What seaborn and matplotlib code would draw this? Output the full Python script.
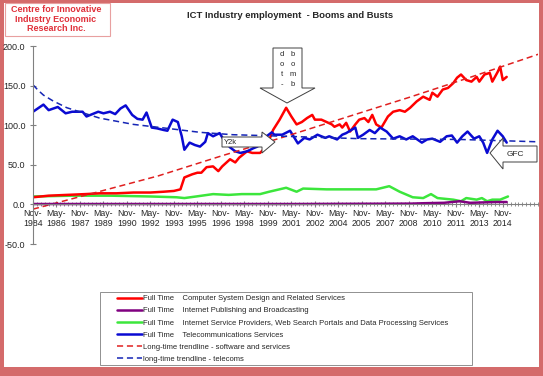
import matplotlib
matplotlib.use("Agg")
import matplotlib.pyplot as plt
import seaborn as sns
from matplotlib.patches import Rectangle, Polygon
from matplotlib.transforms import Affine2D

# --- datos (meses desde Nov-1984) ---
sw_months = [0, 12, 26, 40, 51, 64, 77, 90, 100, 108, 113, 116, 122, 126, 129, 133, 138, 142, 145,
             151, 155, 158, 164, 168, 174, 179, 184, 189, 194, 198, 202, 206, 210, 214, 216, 221,
             225, 229, 231, 235, 237, 240, 243, 247, 250, 254, 257, 260, 263, 267, 272, 276, 281,
             285, 289, 294, 299, 304, 306, 310, 314, 318, 322, 325, 328, 332, 336, 340, 342, 346,
             350, 352, 356, 358, 360, 363]
sw_values = [9, 11, 12, 13, 14, 14, 15, 15, 16, 17, 19, 34, 38, 40, 40, 47, 48, 42, 48,
             57, 53, 59, 67, 65, 65, 73, 94, 107, 122, 111, 101, 104, 109, 113, 107, 107,
             104, 101, 98, 101, 97, 103, 92, 101, 107, 109, 104, 113, 101, 97, 111, 117, 119,
             117, 122, 130, 136, 132, 141, 136, 145, 147, 153, 160, 164, 157, 155, 161, 155, 164,
             166, 155, 167, 174, 157, 161]

pub_months = [0, 100, 200, 290, 300, 315, 327, 335, 345, 355, 363]
pub_values = [0.5, 0.5, 0.5, 1, 1.5, 2, 4, 2, 2.5, 3, 3]

isp_months = [0, 30, 60, 90, 110, 116, 125, 138, 150, 160, 174, 181, 194, 202, 207, 225, 250,
              263, 273, 281, 291, 299, 305, 310, 322, 328, 332, 340, 344, 348, 352, 358, 364]
isp_values = [10, 11, 11, 10, 9, 8, 10, 13, 12, 13, 13, 16, 21, 16, 20, 19, 19,
              19, 23, 16, 9, 8, 13, 8, 6, 4, 8, 6, 8, 4, 6, 6, 10]

tel_months = [0, 8, 12, 19, 25, 30, 38, 41, 50, 54, 59, 63, 67, 71, 76, 80, 84, 87, 91, 95,
              100, 103, 107, 111, 114, 116, 120, 124, 128, 132, 134, 138, 143, 146, 151, 155,
              159, 164, 169, 172, 175, 179, 183, 185, 191, 197, 203, 208, 212, 218, 224, 227,
              233, 237, 240, 247, 249, 253, 258, 262, 266, 271, 276, 281, 286, 291, 298, 302,
              306, 312, 317, 321, 325, 329, 333, 338, 342, 345, 348, 352, 356, 360, 363]
tel_values = [117, 126, 119, 123, 115, 117, 117, 111, 117, 115, 117, 114, 121, 125, 113, 108, 107, 116, 97, 96,
              94, 93, 107, 104, 86, 69, 78, 75, 73, 79, 90, 86, 90, 82, 72, 67,
              65, 67, 71, 73, 78, 86, 91, 88, 88, 93, 77, 84, 82, 88, 84, 86,
              82, 88, 90, 97, 84, 88, 94, 90, 97, 92, 83, 86, 82, 86, 78, 82,
              83, 79, 86, 87, 78, 86, 92, 83, 86, 78, 65, 82, 93, 86, 78]

trend_sw_months = [0, 48, 96, 144, 192, 240, 288, 336, 388]
trend_sw_values = [-6, 15, 36, 61, 85, 110, 135, 161, 190]

trend_tel_months = [0, 4, 8, 15, 26, 51, 77, 103, 128, 153, 174, 250, 327, 388]
trend_tel_values = [151, 144, 138, 131, 122, 109, 101, 96, 91, 88, 87, 83, 82, 79]

tick_months = list(range(0, 361, 18))
tick_labels = ['Nov-\n1984', 'May-\n1986', 'Nov-\n1987', 'May-\n1989', 'Nov-\n1990', 'May-\n1992',
               'Nov-\n1993', 'May-\n1995', 'Nov-\n1996', 'May-\n1998', 'Nov-\n1999', 'May-\n2001',
               'Nov-\n2002', 'May-\n2004', 'Nov-\n2005', 'May-\n2007', 'Nov-\n2008', 'May-\n2010',
               'Nov-\n2011', 'May-\n2013', 'Nov-\n2014']

labels = ['Full Time    Computer System Design and Related Services',
          'Full Time    Internet Publishing and Broadcasting',
          'Full Time    Internet Service Providers, Web Search Portals and Data Processing Services',
          'Full Time    Telecommunications Services',
          'Long-time trendline - software and services',
          'long-time trendline - telecoms']

# --- estilo ---
sns.set_style('white')
plt.rcParams['font.family'] = ['Liberation Sans', 'DejaVu Sans']

W, H = 543, 376
fig = plt.figure(figsize=(W / 100, H / 100), dpi=100)
fig.patch.set_facecolor('#D46B6B')
px = Affine2D().scale(1 / W, -1 / H).translate(0, 1) + fig.transFigure

fig.patches.append(Rectangle((4, 3), 535, 364, transform=px, facecolor='white',
                             edgecolor='none', zorder=-10))

ax = fig.add_axes([33 / W, 1 - 244 / H, (538 - 33) / W, (244 - 46) / H])
ax.patch.set_visible(False)

sns.lineplot(x=pub_months, y=pub_values, color='#800080', lw=1.8, ax=ax, label=labels[1], zorder=2.4)
sns.lineplot(x=isp_months, y=isp_values, color='#3CE63C', lw=1.8, ax=ax, label=labels[2])
sns.lineplot(x=sw_months, y=sw_values, color='#FF0000', lw=1.8, ax=ax, label=labels[0])
sns.lineplot(x=tel_months, y=tel_values, color='#0A0AD2', lw=1.8, ax=ax, label=labels[3])
sns.lineplot(x=trend_sw_months, y=trend_sw_values, color='#E02020', lw=1.1, ls=(0, (4, 2.5)),
             ax=ax, label=labels[4])
sns.lineplot(x=trend_tel_months, y=trend_tel_values, color='#1525B5', lw=1.1, ls=(0, (4, 2.5)),
             ax=ax, label=labels[5])

ax.set_xlim(0, 387)
ax.set_ylim(-50, 200)
ax.spines['top'].set_visible(False)
ax.spines['right'].set_visible(False)
ax.spines['bottom'].set_position(('data', 0))
for s in ('left', 'bottom'):
    ax.spines[s].set_color('#808080')
    ax.spines[s].set_linewidth(0.8)
ax.set_xticks(tick_months)
ax.set_xticklabels(tick_labels)
ax.set_xticks(range(0, 388, 3), minor=True)
ax.set_yticks([-50, 0, 50, 100, 150, 200])
ax.set_yticklabels(['%.1f' % v for v in [-50, 0, 50, 100, 150, 200]])
ax.tick_params(axis='x', which='major', direction='inout', length=4, color='#808080',
               labelsize=6.3, pad=1.5, bottom=True)
ax.tick_params(axis='x', which='minor', direction='inout', length=3, color='#808080', bottom=True)
ax.tick_params(axis='y', direction='inout', length=5, color='#808080', labelsize=6.5, pad=3, left=True)
for t in ax.get_xticklabels():
    t.set_linespacing(1.15)
ax.set_xlabel('')
ax.set_ylabel('')

# leyenda
handles, labs = ax.get_legend_handles_labels()
ax.get_legend().remove()
order = [labs.index(l) for l in labels]
fig.patches.append(Rectangle((100, 292), 372, 73, transform=px, facecolor='white',
                             edgecolor='#909090', lw=0.7, zorder=1))
fig.legend([handles[i] for i in order], labels, loc='upper left',
           bbox_to_anchor=(114 / W, 1 - 292 / H), frameon=False, fontsize=5.5,
           handlelength=3.2, handletextpad=0.15, labelspacing=0.62, borderaxespad=0)

# titulo y logo
fig.text(290 / W, 1 - 16 / H, 'ICT Industry employment  - Booms and Busts', ha='center',
         va='center', fontsize=6.8, fontweight='bold')
fig.patches.append(Rectangle((5, 3), 105, 33, transform=px, facecolor='white',
                             edgecolor='#E8A0A0', lw=0.8, zorder=1))
fig.text(56 / W, 1 - 19 / H, 'Centre for Innovative\nIndustry Economic\nResearch Inc.',
         ha='center', va='center', fontsize=6.5, fontweight='bold', color='#E0303A',
         linespacing=1.05)

# flechas
arrow_kw = dict(transform=px, facecolor='white', edgecolor='#404040', lw=0.7, zorder=5)
fig.patches.append(Polygon([(222, 137), (262, 137), (262, 132), (275, 142), (262, 153),
                            (262, 147), (222, 147)], **arrow_kw))
fig.text(224, 142, 'Y2k', transform=px, fontsize=5.5, va='center', zorder=6)

fig.patches.append(Polygon([(273, 48), (302, 48), (302, 88), (315, 88), (287, 103),
                            (260, 88), (273, 88)], **arrow_kw))
for i, (a, b) in enumerate(zip('dot-', 'bomb')):
    fig.text(282, 55 + 10 * i, a, transform=px, fontsize=5.5, ha='center', va='center', zorder=6)
    fig.text(293, 55 + 10 * i, b, transform=px, fontsize=5.5, ha='center', va='center', zorder=6)

fig.patches.append(Polygon([(490, 153), (503, 138), (503, 146), (537, 146), (537, 162),
                            (503, 162), (503, 169)], **arrow_kw))
fig.text(507, 154, 'GFC', transform=px, fontsize=6, va='center', zorder=6)

fig.savefig('out.png', dpi=100, facecolor=fig.get_facecolor())
